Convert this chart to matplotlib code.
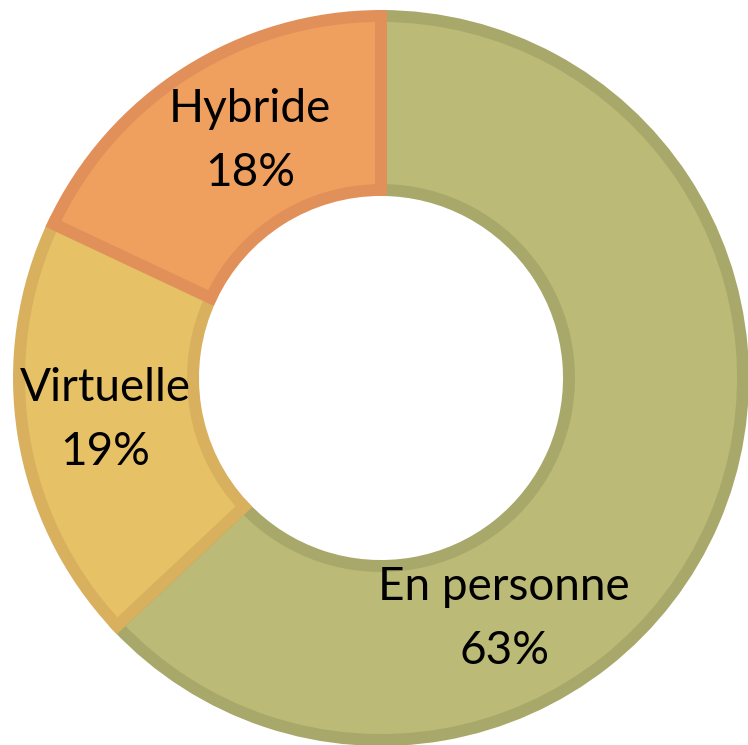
import matplotlib
matplotlib.use('Agg')
import matplotlib.pyplot as plt

# donut data
labels = ['En personne', 'Virtuelle', 'Hybride']
values = [63, 19, 18]
fills = ['#BBBA76', '#E6C166', '#F0A05E']
edges = ['#A8A86A', '#D8B05E', '#E2905A']

# label centres, in units of the outer radius
label_xy = [(0.335, -0.655), (-0.75, -0.115), (-0.355, 0.645)]

plt.rcParams['font.family'] = ['Lato', 'DejaVu Sans']

fig = plt.figure(figsize=(7.48, 7.45), dpi=100)
ax = fig.add_axes([0, 0, 1, 1])

wedges, _ = ax.pie(values, startangle=90, counterclock=False,
                   radius=362/368, colors=fills,
                   wedgeprops=dict(width=(362-188)/368, linewidth=8.6))
for w, ec in zip(wedges, edges):
    w.set_edgecolor(ec)
    w.set_joinstyle('miter')

for lab, v, (x, y) in zip(labels, values, label_xy):
    ax.text(x, y, f'{lab}\n{v}%', ha='center', va='center',
            fontsize=33, linespacing=1.65, color='black')

ax.set_xlim(-381/368, 367/368)
ax.set_ylim(-367/368, 378/368)
ax.axis('off')

fig.savefig('out.png', dpi=100)
